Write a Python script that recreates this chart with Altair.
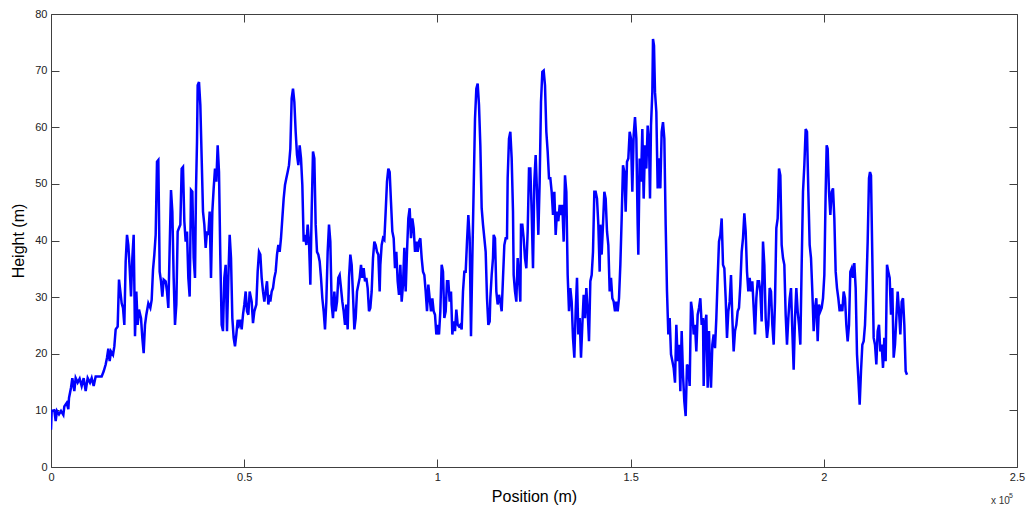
import altair as alt
import pandas as pd

# (position in metres, height in metres), segment by segment
seg1 = [(0, 6.6), (173, 9.9), (863, 10.0), (1208, 8.1), (1553, 9.9), (2070, 9.3), (2588, 9.9), (3192, 9.2),
        (3451, 10.7), (4055, 11.3), (4486, 10.2), (4659, 12.2), (5176, 14.0), (5521, 15.7), (6039, 13.4),
        (6384, 15.7), (6902, 14.9), (7419, 15.6), (7937, 14.3), (8454, 15.7), (8972, 13.4), (9490, 15.7),
        (10094, 14.9), (10525, 15.7), (11043, 14.3), (11560, 16.0), (13113, 16.0), (13631, 16.9), (14148, 18.1),
        (14493, 19.3), (14838, 20.9), (15184, 18.7), (15529, 20.4), (16046, 19.8), (16391, 21.3), (16736, 24.3),
        (17254, 24.8), (17599, 33.1), (17944, 31.0), (18289, 28.9), (18634, 28.1), (18979, 25.1), (19324, 36.3),
        (19670, 41.0), (20015, 39.2), (20360, 35.1), (20705, 30.1), (21050, 36.9), (21395, 41.0), (21740, 23.1),
        (22085, 31.0), (22430, 25.1), (22775, 27.8), (23293, 26.3), (23638, 22.8), (23983, 20.1), (24328, 25.1),
        (24673, 26.9), (25191, 28.9), (25708, 28.1), (26053, 29.5), (26398, 34.8), (26743, 37.5), (27088, 41.0),
        (27434, 53.9), (27779, 54.2)]

seg2 = [(28123, 34.5), (28468, 32.8), (28813, 30.1), (29158, 33.1), (29676, 32.8), (30021, 31.0), (30366, 28.1),
        (30711, 38.7), (31056, 48.9), (31401, 45.1), (31746, 33.4), (32091, 25.1), (32436, 28.7), (32781, 41.6),
        (33126, 42.2), (33472, 42.8), (33817, 52.7), (34162, 53.0), (34507, 43.4), (34852, 39.8), (35197, 41.6),
        (35542, 33.4), (35887, 30.1), (36232, 48.9), (36577, 48.6), (36922, 36.9), (37267, 33.4), (37526, 48.9),
        (37785, 57.4), (37958, 67.4), (38303, 68.0), (38648, 63.9), (38993, 54.5), (39338, 45.1), (39683, 42.8),
        (40028, 38.7), (40373, 41.6), (40718, 41.0), (41063, 45.1), (41408, 33.4), (41753, 45.1), (42099, 49.2),
        (42444, 52.7), (42789, 50.4), (43134, 56.8), (43479, 52.1), (43824, 36.9), (44169, 25.1), (44514, 24.0),
        (44859, 33.4), (45204, 35.7), (45549, 24.0), (45894, 33.4), (46239, 41.0), (46585, 36.9), (46930, 26.3),
        (47275, 22.8), (47620, 21.3), (47965, 23.4), (48310, 26.0), (48655, 25.1), (49000, 26.0), (49345, 24.3),
        (49690, 26.9), (50035, 28.7), (50380, 31.0), (50726, 27.5), (51071, 26.9), (51416, 31.0), (51933, 29.2),
        (52278, 25.4), (52623, 27.5), (53141, 28.7), (53486, 34.5), (53831, 38.0), (54176, 37.5), (54521, 33.4),
        (54866, 31.0), (55212, 29.2), (55557, 31.0), (55902, 32.8), (56247, 28.7), (56592, 30.4)]

seg3 = [(56763, 29.2), (57108, 31.0), (57453, 31.6), (57799, 33.4), (58144, 34.5), (58489, 37.5), (58834, 39.2),
        (59179, 38.0), (59524, 40.4), (59869, 43.9), (60214, 47.4), (60559, 49.8), (60904, 51.0), (61249, 52.1),
        (61594, 53.3), (61940, 56.2), (62285, 65.1), (62630, 66.8), (62975, 64.5), (63320, 59.2), (63665, 55.1),
        (64010, 53.3), (64355, 56.8), (64700, 54.5), (65045, 49.8), (65390, 39.8), (65735, 41.0), (66080, 39.2),
        (66426, 42.8), (66771, 39.8), (67116, 32.2), (67461, 45.1), (67806, 55.7), (68151, 54.5), (68496, 42.8),
        (68841, 38.0), (69186, 37.5), (69531, 36.3), (69876, 33.4), (70221, 29.8), (70567, 27.5), (70912, 24.3),
        (71257, 29.2), (71602, 38.0), (71947, 42.8), (72292, 39.8), (72637, 28.7), (72982, 26.3), (73327, 31.0),
        (73672, 27.5), (74017, 29.2), (74362, 33.4), (74707, 33.9), (75053, 31.6), (75398, 29.2), (75743, 27.5),
        (76088, 25.1), (76433, 28.7), (76778, 24.3), (77123, 33.4), (77468, 37.5), (77813, 35.7), (78158, 30.4),
        (78503, 24.3), (78848, 26.3), (79194, 31.0), (79539, 32.2), (79884, 33.4), (80229, 35.7), (80574, 33.4),
        (80919, 35.1), (81264, 32.8), (81609, 33.4), (81954, 31.6), (82299, 27.5), (82644, 28.1), (82989, 31.0),
        (83335, 36.9), (83680, 39.8), (84025, 39.2), (84370, 38.0), (84715, 37.5), (85060, 31.0)]

seg4 = [(85231, 35.7), (85576, 39.2), (85921, 40.4), (86267, 40.1), (86612, 45.1), (86957, 50.4), (87302, 52.7),
        (87647, 52.1), (87992, 46.8), (88337, 41.6), (88682, 40.4), (89027, 35.1), (89372, 38.0), (89717, 32.8),
        (90062, 30.4), (90408, 35.7), (90753, 29.2), (91098, 32.2), (91443, 38.7), (91788, 31.0), (92133, 38.0),
        (92478, 43.9), (92823, 45.7), (93168, 40.4), (93513, 43.9), (93858, 42.2), (94203, 38.0), (94549, 39.8),
        (94894, 38.0), (95239, 39.8), (95584, 40.4), (95929, 36.9), (96274, 34.5), (96619, 33.9), (96964, 31.0),
        (97309, 27.5), (97654, 32.2), (97999, 29.8), (98344, 27.5), (98689, 29.8), (99035, 27.5), (99380, 26.9),
        (99725, 23.4), (100070, 25.1), (100415, 23.4), (100760, 27.5), (101105, 35.7), (101450, 34.5),
        (101795, 26.3), (102140, 27.5), (102485, 32.8), (102830, 32.8), (103176, 29.2), (103521, 31.0),
        (103866, 23.4), (104211, 25.7), (104556, 24.0), (104901, 27.8), (105246, 25.1), (105591, 24.8),
        (105936, 25.1), (106281, 24.3), (106626, 31.0), (106971, 34.5), (107317, 34.5), (107662, 39.8),
        (108007, 44.5), (108352, 40.4), (108697, 23.1), (109042, 36.9), (109387, 49.2), (109732, 61.5),
        (110077, 66.8), (110422, 67.7), (110767, 63.9), (111112, 56.8), (111458, 45.7), (111803, 42.8),
        (112148, 40.4), (112493, 38.0), (112838, 29.8), (113183, 25.1), (113528, 25.7)]

seg5 = [(113699, 29.8), (114044, 33.9), (114389, 36.9), (114562, 41.0), (114907, 40.4), (115252, 31.0),
        (115597, 28.7), (115942, 30.4), (116287, 29.2), (116633, 27.5), (116978, 33.4), (117323, 39.2),
        (117668, 40.4), (118013, 40.4), (118185, 51.0), (118530, 58.0), (118876, 59.2), (119221, 54.5),
        (119566, 45.1), (119738, 33.9), (120083, 31.0), (120428, 29.2), (120773, 36.9), (121119, 33.4),
        (121464, 29.2), (121636, 42.8), (121981, 42.8), (122326, 40.4), (122671, 36.9), (123016, 35.1),
        (123362, 41.6), (123707, 52.7), (124052, 52.7), (124397, 45.1), (124742, 35.1), (125087, 50.4),
        (125432, 55.1), (125777, 48.6), (126122, 41.0), (126467, 50.4), (126812, 64.5), (127157, 69.8),
        (127503, 70.0), (127848, 67.4), (128193, 59.2), (128538, 55.7), (128883, 51.0), (129228, 51.0),
        (129573, 48.6), (129918, 44.5), (130263, 48.6), (130608, 41.0), (130953, 45.1), (131298, 43.4),
        (131644, 46.3), (131989, 44.5), (132334, 46.3), (132679, 39.8), (133024, 51.5), (133369, 48.6),
        (133714, 33.9), (134059, 27.5), (134404, 31.6), (134749, 29.2), (135094, 22.8), (135439, 19.3),
        (135785, 27.5), (136130, 33.4), (136475, 23.4), (136820, 26.3), (137165, 19.3), (137510, 25.1),
        (137855, 30.4), (138200, 26.3), (138545, 31.6), (138890, 27.5), (139235, 22.2), (139580, 32.8),
        (139926, 33.9), (140271, 38.0), (140616, 48.6), (140961, 48.6), (141306, 47.4), (141651, 42.8),
        (141996, 34.5)]

seg6 = [(142167, 42.8), (142512, 37.5), (142857, 42.8), (143203, 48.6), (143548, 47.4), (143893, 41.6),
        (144238, 39.2), (144583, 31.0), (144928, 33.4), (145273, 29.8), (145618, 29.2), (145963, 27.5),
        (146308, 29.2), (146653, 27.5), (146998, 29.8), (147344, 35.7), (147689, 43.9), (148034, 53.3),
        (148379, 52.1), (148724, 45.1), (149069, 53.9), (149414, 54.5), (149759, 59.2), (150104, 58.0),
        (150449, 48.6), (150794, 58.6), (151139, 61.8), (151484, 58.0), (151830, 42.8), (152002, 37.5),
        (152347, 54.5), (152692, 50.4), (153037, 59.7), (153382, 47.4), (153728, 56.8), (154073, 52.7),
        (154418, 60.3), (154763, 57.4), (155022, 47.4), (155280, 60.3), (155625, 66.2), (155798, 75.6),
        (156057, 74.4), (156316, 66.2), (156661, 62.7), (157006, 49.2), (157351, 54.5), (157696, 49.2),
        (158041, 59.2), (158386, 60.9), (158731, 58.0), (159076, 42.8), (159421, 31.0), (159766, 23.4),
        (160111, 26.3), (160457, 19.9), (160802, 18.7), (161147, 17.5), (161492, 14.9), (161837, 25.1),
        (162182, 18.7), (162527, 21.6), (162872, 13.4), (163217, 24.0), (163562, 16.3), (163907, 11.6),
        (164252, 9.0), (164597, 18.1), (164943, 17.5), (165288, 14.3), (165633, 29.2), (165978, 27.5),
        (166323, 23.4), (166668, 25.1), (167013, 20.4), (167358, 26.9), (167703, 28.1), (168048, 29.8),
        (168393, 25.1), (168738, 26.3), (168911, 14.3), (169256, 25.1), (169601, 26.9), (169946, 14.0),
        (170291, 24.0), (170464, 19.3)]

seg7 = [(170808, 14.0), (171153, 21.6), (171498, 23.4), (171843, 21.0), (172188, 26.3), (172533, 33.4),
        (172878, 39.8), (173223, 41.0), (173569, 43.9), (173914, 35.7), (174259, 35.1), (174604, 29.8),
        (174949, 22.8), (175294, 27.5), (175639, 29.2), (175984, 33.9), (176329, 26.3), (176674, 20.4),
        (177019, 24.0), (177364, 25.1), (177709, 27.5), (178055, 28.1), (178400, 32.2), (178745, 38.0),
        (179090, 40.4), (179435, 44.8), (179780, 41.6), (180125, 34.5), (180470, 31.0), (180815, 33.4),
        (181160, 31.0), (181505, 32.8), (181850, 28.1), (182196, 23.4), (182541, 29.8), (182886, 32.8),
        (183231, 32.8), (183576, 31.0), (183921, 25.7), (184266, 39.8), (184611, 35.7), (184956, 26.3),
        (185301, 22.8), (185646, 25.1), (185991, 31.6), (186336, 31.0), (186682, 25.1), (187027, 21.6),
        (187372, 29.2), (187717, 42.2), (188062, 43.9), (188407, 52.7), (188752, 51.5), (189097, 39.2),
        (189442, 36.9), (189787, 35.7), (190132, 26.9), (190477, 21.6), (190822, 26.3), (191168, 29.8),
        (191513, 31.6), (191858, 24.0), (192203, 17.2), (192548, 26.3), (192893, 31.6), (193238, 27.5),
        (193583, 25.1), (193928, 21.6), (194273, 35.7), (194618, 48.6), (194963, 53.3), (195309, 59.7),
        (195654, 59.2), (195999, 48.6), (196344, 39.2), (196689, 36.9), (197034, 31.0), (197379, 24.0),
        (197724, 28.1), (198069, 29.8), (198414, 22.2), (198759, 28.7)]

seg8 = [(199103, 27.5), (199448, 28.1), (199793, 29.8), (200139, 33.9), (200484, 48.6), (200742, 56.8),
        (201001, 56.2), (201346, 48.6), (201691, 44.5), (202036, 48.6), (202381, 49.2), (202727, 43.9),
        (203072, 34.5), (203417, 31.6), (203762, 29.8), (204107, 27.5), (204452, 28.7), (204797, 27.5),
        (205142, 31.0), (205487, 29.8), (205832, 25.1), (206177, 22.2), (206523, 25.1), (206868, 34.5),
        (207213, 35.1), (207558, 33.4), (207903, 36.0), (208248, 31.6), (208593, 19.9), (208938, 15.7),
        (209283, 11.0), (209628, 16.9), (209973, 21.6), (210318, 22.2), (210664, 25.1), (211009, 31.6),
        (211354, 39.8), (211699, 51.0), (211958, 52.1), (212216, 51.5), (212561, 36.9), (212907, 22.8),
        (213252, 21.6), (213597, 18.1), (213942, 24.0), (214287, 25.1), (214632, 20.4), (214977, 21.6),
        (215322, 17.5), (215667, 22.8), (216012, 18.7), (216357, 35.7), (216702, 34.5), (217048, 33.4),
        (217393, 26.9), (217738, 31.6), (218083, 19.3), (218428, 21.6), (218773, 26.3), (219118, 31.0),
        (219463, 27.5), (219808, 23.4), (220153, 29.2), (220498, 29.8), (220844, 25.1), (221189, 16.9),
        (221534, 16.3)]

x_ticks = [0, 50000, 100000, 150000, 200000, 250000]
y_ticks = [0, 10, 20, 30, 40, 50, 60, 70, 80]

segments = [seg1, seg2, seg3, seg4, seg5, seg6, seg7, seg8]
rows = [p for seg in segments for p in seg]
df = pd.DataFrame(rows, columns=["pos", "h"])
df["order"] = range(len(df))

FONT = "Liberation Sans"
AX = "#404040"

xscale = alt.Scale(domain=[0, 250000], nice=False, zero=False)
yscale = alt.Scale(domain=[0, 80], nice=False, zero=False)

line = alt.Chart(df).mark_line(color="#0000ff", strokeWidth=2.5, clip=True).encode(
    x=alt.X("pos:Q", scale=xscale,
            axis=alt.Axis(orient="bottom", values=x_ticks, labelExpr="'' + datum.value / 100000",
                          title="Position (m)", offset=-8, tickSize=8, domain=False, grid=False,
                          labelPadding=4, titlePadding=6, labelFlush=False, labelOverlap=False,
                          tickColor=AX)),
    y=alt.Y("h:Q", scale=yscale,
            axis=alt.Axis(orient="left", values=y_ticks, title="Height (m)", offset=-8, tickSize=8,
                          domain=False, grid=False, labelPadding=4, titlePadding=8,
                          labelFlush=False, labelOverlap=False, tickColor=AX)),
    order="order:Q",
)

mirror = alt.Chart(df).mark_point(opacity=0).encode(
    x=alt.X("pos:Q", scale=xscale,
            axis=alt.Axis(orient="top", values=x_ticks, labels=False, title=None, offset=-8,
                          tickSize=8, domain=False, grid=False, tickColor=AX)),
    y=alt.Y("h:Q", scale=yscale,
            axis=alt.Axis(orient="right", values=y_ticks, labels=False, title=None, offset=-8,
                          tickSize=8, domain=False, grid=False, tickColor=AX)),
)

exp_base = alt.Chart(pd.DataFrame({"t": ["x 10"]})).mark_text(
    align="left", baseline="alphabetic", font=FONT, fontSize=10, color="#333"
).encode(text="t:N", x=alt.value(940), y=alt.value(490))

exp_sup = alt.Chart(pd.DataFrame({"t": ["5"]})).mark_text(
    align="left", baseline="alphabetic", font=FONT, fontSize=7, color="#333"
).encode(text="t:N", x=alt.value(958), y=alt.value(484))

chart = alt.layer(line, mirror, exp_base, exp_sup).resolve_axis(
    x="independent", y="independent"
).properties(
    width=966, height=453,
    padding={"left": 51, "top": 14, "right": 12, "bottom": 47},
    autosize=alt.AutoSizeParams(type="none"),
    background="white",
).configure_view(
    stroke=AX, strokeWidth=1
).configure_axis(
    labelFont=FONT, labelFontSize=11, labelColor="#222",
    titleFont=FONT, titleFontSize=16, titleFontWeight="normal", titleColor="#000",
)

chart.save("out.html", embed_options={"renderer": "svg", "actions": False})
